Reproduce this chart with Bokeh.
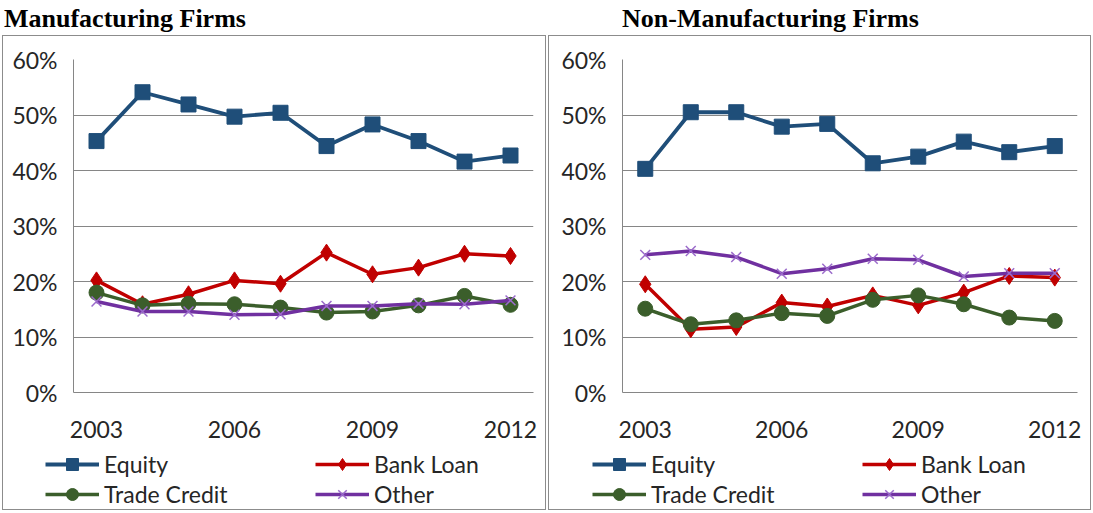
from bokeh.plotting import figure
from bokeh.models import Div, FixedTicker, PrintfTickFormatter, Legend, LegendItem, Range1d
from bokeh.layouts import row, column
from bokeh.embed import file_html
from bokeh.resources import INLINE

years = [2003, 2004, 2005, 2006, 2007, 2008, 2009, 2010, 2011, 2012]
x_ticks = [2003, 2006, 2009, 2012]
y_ticks = [0, 10, 20, 30, 40, 50, 60]
series_names = ["Equity", "Bank Loan", "Trade Credit", "Other"]

mfg_equity = [45.3, 54.1, 51.9, 49.7, 50.4, 44.4, 48.3, 45.3, 41.6, 42.7]
mfg_bank = [20.2, 15.9, 17.7, 20.2, 19.6, 25.2, 21.3, 22.5, 25.0, 24.6]
mfg_trade = [18.0, 15.7, 16.0, 15.9, 15.3, 14.4, 14.6, 15.7, 17.4, 15.8]
mfg_other = [16.4, 14.6, 14.6, 14.0, 14.1, 15.6, 15.6, 16.0, 15.9, 16.6]

non_equity = [40.3, 50.5, 50.5, 47.9, 48.4, 41.3, 42.5, 45.2, 43.3, 44.4]
non_bank = [19.5, 11.4, 11.8, 16.2, 15.5, 17.5, 15.7, 18.0, 21.0, 20.7]
non_trade = [15.1, 12.3, 13.0, 14.3, 13.8, 16.7, 17.5, 15.9, 13.5, 12.9]
non_other = [24.8, 25.5, 24.4, 21.4, 22.3, 24.1, 23.9, 20.9, 21.5, 21.5]

FONT = "Lato"
GRAY = "#868686"
BOX = "1px solid #8c8c8c"
TXT = "#262626"
styles_spec = [
    ("#1F4E79", "square", 15, 3.8),
    ("#C00000", "diamond", 17, 3.5),
    ("#3B5E2B", "circle", 15, 3.5),
    ("#7030A0", "x", 14, 3.5),
]
NAN = float("nan")


def add_series(fig, xs, ys, color, marker, size, lw):
    r1 = fig.line(xs, ys, line_color=color, line_width=lw)
    if marker == "x":
        r2 = fig.scatter(xs, ys, marker="x", size=size, line_color="#9B6BCB",
                         line_width=1.5)
    else:
        r2 = fig.scatter(xs, ys, marker=marker, size=size, fill_color=color,
                         line_color=color)
    return r1, r2


def make_panel(title, title_pad, inner_w, border_left, border_right, legend_x, data):
    div = Div(
        text=f'<div style="font-family:\'Liberation Serif\';font-weight:bold;'
             f'font-size:26px;color:#000;position:relative;top:0px;'
             f'padding-left:{title_pad}px;white-space:nowrap">{title}</div>',
        width=inner_w + 2, height=35, margin=(0, 0, 0, 0),
    )
    p = figure(
        width=inner_w, height=414,
        x_range=Range1d(2002.5, 2012.5), y_range=Range1d(0, 60),
        output_backend="svg", toolbar_location=None,
        min_border_left=border_left, min_border_right=border_right,
        min_border_top=23, min_border_bottom=58,
        margin=(0, 0, 0, 0),
    )
    p.styles = {"border-top": BOX, "border-left": BOX, "border-right": BOX}
    p.outline_line_color = None
    p.background_fill_color = "white"
    p.border_fill_color = "white"
    p.xgrid.visible = False
    p.ygrid.grid_line_color = GRAY
    p.ygrid.grid_line_width = 1

    p.xaxis.ticker = FixedTicker(ticks=x_ticks)
    p.yaxis.ticker = FixedTicker(ticks=y_ticks)
    p.yaxis.formatter = PrintfTickFormatter(format="%d%%")
    for ax in (p.xaxis, p.yaxis):
        ax.axis_line_color = GRAY
        ax.major_tick_line_color = None
        ax.minor_tick_line_color = None
        ax.major_tick_out = 0
        ax.major_tick_in = 0
        ax.major_label_text_font = FONT
        ax.major_label_text_font_size = "23px"
        ax.major_label_text_color = TXT
    p.xaxis.major_label_standoff = 28
    p.yaxis.major_label_standoff = 16

    # legend strip, inside the same box
    lf = figure(
        width=inner_w, height=61,
        x_range=Range1d(0, 1), y_range=Range1d(0, 1),
        x_axis_type=None, y_axis_type=None,
        output_backend="svg", toolbar_location=None,
        min_border=0, min_border_left=0, min_border_right=0,
        min_border_top=0, min_border_bottom=0,
        margin=(0, 0, 0, 0),
    )
    lf.styles = {"border-bottom": BOX, "border-left": BOX, "border-right": BOX}
    lf.outline_line_color = None
    lf.xgrid.visible = False
    lf.ygrid.visible = False

    items = []
    for name, vals, (color, marker, size, lw) in zip(series_names, data, styles_spec):
        add_series(p, years, vals, color, marker, size, lw)
        r1, r2 = add_series(lf, [NAN], [NAN], color, marker, size, lw)
        items.append(LegendItem(label=name, renderers=[r1, r2]))

    legend = Legend(
        items=items, location=(legend_x, 1), orientation="horizontal", ncols=2,
        glyph_width=54, glyph_height=30, label_width=211, label_height=22,
        label_standoff=5, spacing=0, padding=0, margin=0,
        label_text_font=FONT, label_text_font_size="23px", label_text_color=TXT,
        border_line_color=None, background_fill_alpha=0,
    )
    lf.add_layout(legend, "center")
    return column(div, p, row(lf, margin=(0, 0, 0, 0)), spacing=0, margin=(0, 0, 0, 0))


left = make_panel("Manufacturing Firms", 2, 544, 70, 14, 42,
                  [mfg_equity, mfg_bank, mfg_trade, mfg_other])
right = make_panel("Non-Manufacturing Firms", 74, 543, 73, 15, 43,
                   [non_equity, non_bank, non_trade, non_other])
layout = row(left, right, spacing=0, margin=(0, 0, 0, 2))

open("out.html", "w").write(file_html(layout, INLINE))
